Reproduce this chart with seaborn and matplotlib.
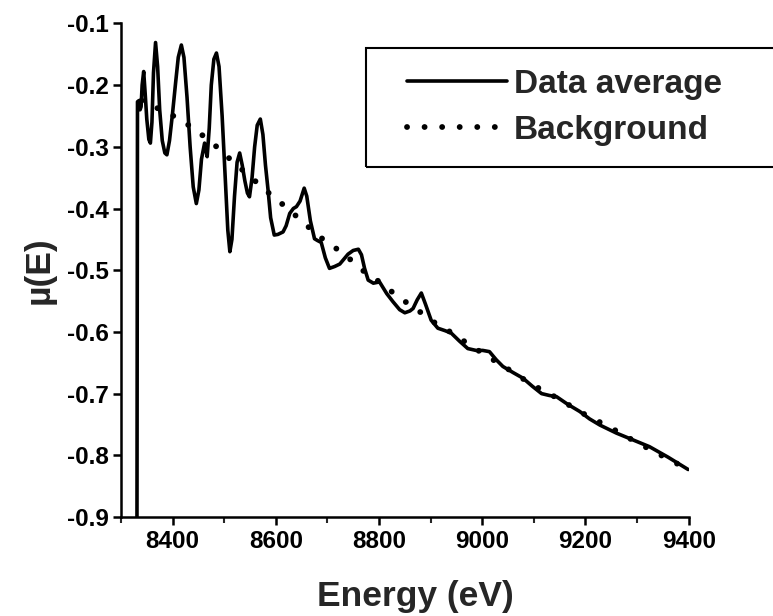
import numpy as np
import pandas as pd
import matplotlib
matplotlib.use("Agg")
import matplotlib.pyplot as plt
import seaborn as sns
from matplotlib.patches import Rectangle
from matplotlib.ticker import MultipleLocator

# averaged absorption data
avg_energy = [8331, 8332, 8335, 8337, 8339, 8341, 8344, 8347, 8350, 8354, 8357, 8360, 8363, 8367,
              8371, 8375, 8380, 8385, 8389, 8394, 8400, 8406, 8411, 8417, 8422, 8428, 8434, 8440,
              8446, 8451, 8456, 8462, 8467, 8471, 8475, 8480, 8485, 8490, 8496, 8502, 8507, 8511,
              8515, 8520, 8525, 8530, 8535, 8540, 8545, 8549, 8554, 8559, 8564, 8570, 8575, 8580,
              8585, 8590, 8597, 8604, 8614, 8620, 8627, 8634, 8640, 8647, 8655, 8660, 8667, 8675,
              8681, 8688, 8696, 8704, 8714, 8724, 8732, 8740, 8750, 8760, 8766, 8772, 8779, 8789,
              8801, 8815, 8827, 8840, 8850, 8860, 8866, 8874, 8882, 8890, 8901, 8914, 8928, 8940,
              8956, 8972, 8988, 9001, 9014, 9027, 9040, 9060, 9079, 9097, 9115, 9130, 9144, 9165,
              9189, 9208, 9228, 9260, 9292, 9324, 9360, 9399]
avg_mu = [-0.900, -0.227, -0.225, -0.240, -0.235, -0.200, -0.178, -0.215, -0.255, -0.288, -0.294,
          -0.260, -0.180, -0.131, -0.170, -0.240, -0.290, -0.310, -0.313, -0.290, -0.245, -0.195,
          -0.155, -0.135, -0.155, -0.220, -0.300, -0.365, -0.392, -0.370, -0.320, -0.294, -0.316,
          -0.270, -0.200, -0.158, -0.148, -0.170, -0.250, -0.350, -0.435, -0.470, -0.450, -0.380,
          -0.325, -0.310, -0.330, -0.355, -0.375, -0.381, -0.350, -0.300, -0.265, -0.255, -0.280,
          -0.330, -0.370, -0.415, -0.443, -0.442, -0.438, -0.428, -0.408, -0.400, -0.397, -0.388,
          -0.367, -0.380, -0.420, -0.449, -0.452, -0.455, -0.480, -0.497, -0.494, -0.490, -0.482,
          -0.474, -0.468, -0.466, -0.475, -0.497, -0.516, -0.521, -0.519, -0.538, -0.551, -0.564,
          -0.569, -0.566, -0.562, -0.548, -0.537, -0.555, -0.581, -0.594, -0.598, -0.602, -0.615,
          -0.627, -0.630, -0.630, -0.632, -0.645, -0.656, -0.666, -0.675, -0.688, -0.700, -0.703,
          -0.705, -0.717, -0.729, -0.741, -0.751, -0.764, -0.775, -0.786, -0.803, -0.823]

# fitted background
bkg_energy = [8340, 8382, 8414, 8450, 8484, 8518, 8554, 8588, 8626, 8659, 8693, 8733, 8766, 8801,
              8837, 8872, 8908, 8942, 8977, 9013, 9046, 9079, 9115, 9152, 9188, 9225, 9259, 9295,
              9331, 9367, 9395]
bkg_mu = [-0.225, -0.242, -0.255, -0.276, -0.299, -0.325, -0.351, -0.376, -0.402, -0.427, -0.451,
          -0.474, -0.499, -0.519, -0.543, -0.563, -0.585, -0.602, -0.622, -0.641, -0.658, -0.676,
          -0.694, -0.710, -0.729, -0.745, -0.760, -0.777, -0.793, -0.809, -0.821]

xticks = [8400, 8600, 8800, 9000, 9200, 9400]
yticks = [-0.9, -0.8, -0.7, -0.6, -0.5, -0.4, -0.3, -0.2, -0.1]

sns.set_style("ticks")
plt.rcParams['font.family'] = ['Liberation Sans', 'DejaVu Sans']
plt.rcParams['font.weight'] = 'bold'

fig = plt.figure(figsize=(7.73, 6.16), dpi=100)
ax = fig.add_axes([0.1565, 0.1607, 0.7344, 0.8013])

avg_df = pd.DataFrame({"energy": avg_energy, "mu": avg_mu})
bkg_df = pd.DataFrame({"energy": bkg_energy, "mu": bkg_mu})

sns.lineplot(data=avg_df, x="energy", y="mu", ax=ax, sort=False, estimator=None,
             color="black", linewidth=2.6, label="Data average")
sns.lineplot(data=bkg_df, x="energy", y="mu", ax=ax, sort=False, estimator=None,
             color="black", linewidth=4.2, linestyle=(0, (0.01, 3.0)),
             dash_capstyle="round", label="Background")

ax.set_xlim(8300, 9400)
ax.set_ylim(-0.9, -0.1)
ax.set_xticks(xticks)
ax.xaxis.set_minor_locator(MultipleLocator(100))
ax.set_yticks(yticks)
ax.set_yticklabels(["%.1f" % v for v in yticks])

for s in ["top", "right"]:
    ax.spines[s].set_visible(False)
for s in ["left", "bottom"]:
    ax.spines[s].set_linewidth(1.8)
    ax.spines[s].set_color("black")

ax.tick_params(axis="both", which="major", direction="out", length=6, width=1.8,
               labelsize=17.5, colors="black", pad=3)
ax.tick_params(axis="x", which="minor", direction="out", length=4, width=1.5)
for lab in ax.get_xticklabels() + ax.get_yticklabels():
    lab.set_fontweight("bold")

ax.set_xlabel("Energy (eV)", fontsize=25.5, fontweight="bold")
ax.xaxis.set_label_coords(0.518, -0.128)
ax.set_ylabel("µ(E)", fontsize=25.5, fontweight="bold", labelpad=8)

leg = ax.legend(loc="upper left", bbox_to_anchor=(407 / 773, 1 - 69 / 616),
                bbox_transform=fig.transFigure, frameon=False, fontsize=24,
                handlelength=3.0, handletextpad=0.2, labelspacing=0.44,
                borderpad=0.0, borderaxespad=0.0)
for t in leg.get_texts():
    t.set_fontweight("bold")
fig.patches.append(Rectangle((366 / 773, 1 - 167 / 616), 1.0, 119 / 616,
                             transform=fig.transFigure, fill=False,
                             edgecolor="black", linewidth=1.5))

fig.savefig("out.png", dpi=100)
